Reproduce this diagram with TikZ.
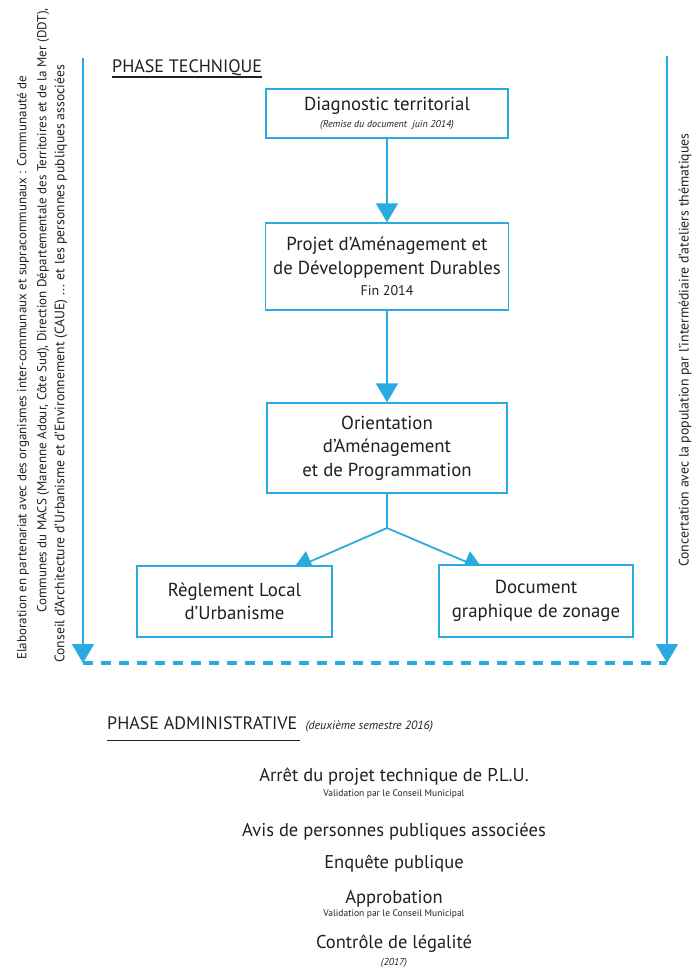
\documentclass[tikz,border=0pt]{standalone}
\usepackage{fontspec}
\setmainfont{PT Sans}
\usepackage{tikz}
\usetikzlibrary{arrows.meta, positioning, backgrounds}
\definecolor{planBlue}{RGB}{41,171,226}
\definecolor{inkGray}{RGB}{35,31,32}
\newcommand{\boxFont}{\fontsize{18.8}{23.5}\selectfont}
\newcommand{\finFont}{\fontsize{14}{16}\selectfont}
\newcommand{\noteFont}{\fontsize{10}{12}\selectfont\itshape}
\newcommand{\sideFont}{\fontsize{13}{15}\selectfont}
\newcommand{\sideFontWide}{\fontsize{13.7}{15}\selectfont}
\newcommand{\concertFont}{\fontsize{13.8}{15}\selectfont}
\newcommand{\phaseFont}{\fontsize{18}{20}\selectfont}
\newcommand{\semFont}{\fontsize{12}{14}\selectfont\itshape}
\newcommand{\stageFont}{\fontsize{18.5}{20}\selectfont}
\newcommand{\stageNoteFont}{\fontsize{9.5}{11}\selectfont}
\newcommand{\yearFont}{\fontsize{10}{12}\selectfont\itshape}
\tikzstyle{stepBox} = [
        rectangle,
        draw=planBlue,
        line width=1.4pt,
        fill=white,
        align=center,
        inner sep=0pt,
        text=inkGray,
        font=\boxFont
    ]
\tikzstyle{arrow} = [line width=1.8pt, draw=planBlue, ->, >={Triangle[width=22pt,length=19pt]}]
\tikzstyle{stem} = [line width=1.8pt, draw=planBlue]
\tikzstyle{dashLine} = [line width=3.5pt, draw=planBlue, dash pattern=on 10pt off 8pt]
\tikzstyle{underline} = [line width=1.1pt, draw=inkGray]
\tikzstyle{sideText} = [rotate=90, anchor=west, inner sep=0pt, text=inkGray, font=\sideFont]
\tikzstyle{phaseTitle} = [anchor=base west, inner sep=0pt, text=inkGray, font=\phaseFont]
\tikzstyle{stageText} = [anchor=base, inner sep=0pt, text=inkGray, font=\stageFont]
\tikzstyle{stageNote} = [anchor=base, inner sep=0pt, text=inkGray, font=\stageNoteFont]

\begin{document}
\begin{tikzpicture}[x=1pt, y=-1pt]
    \useasboundingbox (0,0) rectangle (693,970);
    \node (phaseTech) [phaseTitle] at (112,72) {PHASE TECHNIQUE};
    \draw [underline] ([yshift=-5pt]phaseTech.base west) -- ([yshift=-5pt]phaseTech.base east);
    \node (diag) [stepBox, minimum width=242pt, minimum height=49pt] at (387,113.5) {Diagnostic territorial\\[-7pt]{\noteFont (Remise du document\ \ juin 2014)}};
    \node (padd) [stepBox, minimum width=243pt, minimum height=87pt] at (387,266.5) {Projet d'Aménagement et\\de Développement Durables\\[-2pt]{\finFont Fin 2014}};
    \node (oap) [stepBox, minimum width=240pt, minimum height=90pt] at (387,448) {Orientation\\d'Aménagement\\et de Programmation};
    \node (reglement) [stepBox, minimum width=195pt, minimum height=71pt] at (234.5,601.5) {Règlement Local\\d'Urbanisme};
    \node (zonage) [stepBox, minimum width=194pt, minimum height=72pt] at (536,601) {Document\\graphique de zonage};
    \coordinate (split) at (387,528);
    \coordinate (tipRegl) at (293,569);
    \coordinate (tipZonage) at (483,569);
    \coordinate (leftTop) at (83,58);
    \coordinate (leftEnd) at (83,663);
    \coordinate (rightTop) at (667,56);
    \coordinate (rightEnd) at (667,663);
    \begin{pgfonlayer}{background}
        \draw [arrow] (diag) -- (padd);
        \draw [arrow] (padd) -- (oap);
        \draw [stem] (oap) -- (split);
        \draw [arrow] (split) -- (tipRegl);
        \draw [arrow] (split) -- (tipZonage);
        \draw [dashLine] (leftEnd) -- (rightEnd);
    \end{pgfonlayer}
    \draw [arrow] (leftTop) -- (leftEnd);
    \draw [arrow] (rightTop) -- (rightEnd);
    \node (partLineA) [sideText] at (23,660) {Elaboration en partenariat avec des organismes inter-communaux et supracommunaux : Communauté de};
    \node (partLineB) [sideText] at (43,613) {Communes du MACS (Marenne Adour, Côte Sud), Direction Départementale des Territoires et de la Mer (DDT),};
    \node (partLineC) [sideText, font=\sideFontWide] at (61,663) {Conseil d'Architecture d'Urbanisme et d'Environnement (CAUE) ... et les personnes publiques associées};
    \node (concert) [sideText, font=\concertFont] at (685,567) {Concertation avec la population par l'intermédiaire d'ateliers thématiques};
    \node (phaseAdmin) [phaseTitle] at (107,729.5) {PHASE ADMINISTRATIVE};
    \draw [underline] ([yshift=-11pt]phaseAdmin.base west) -- ([yshift=-11pt,xshift=3pt]phaseAdmin.base east);
    \node (semestre) [right=8pt of phaseAdmin.base east, anchor=base west, inner sep=0pt, text=inkGray, font=\semFont] {(deuxième semestre 2016)};
    \node (arret) [stageText] at (394,781.5) {Arrêt du projet technique de P.L.U.};
    \node (arretNote) [stageNote] at (394,796.5) {Validation par le Conseil Municipal};
    \node (avis) [stageText] at (394,836.5) {Avis de personnes publiques associées};
    \node (enquete) [stageText] at (394,868) {Enquête publique};
    \node (approb) [stageText] at (394,903) {Approbation};
    \node (approbNote) [stageNote] at (394,916.5) {Validation par le Conseil Municipal};
    \node (controle) [stageText] at (394,948) {Contrôle de légalité};
    \node (annee) [stageNote, font=\yearFont] at (394,965) {(2017)};
\end{tikzpicture}
\end{document}
